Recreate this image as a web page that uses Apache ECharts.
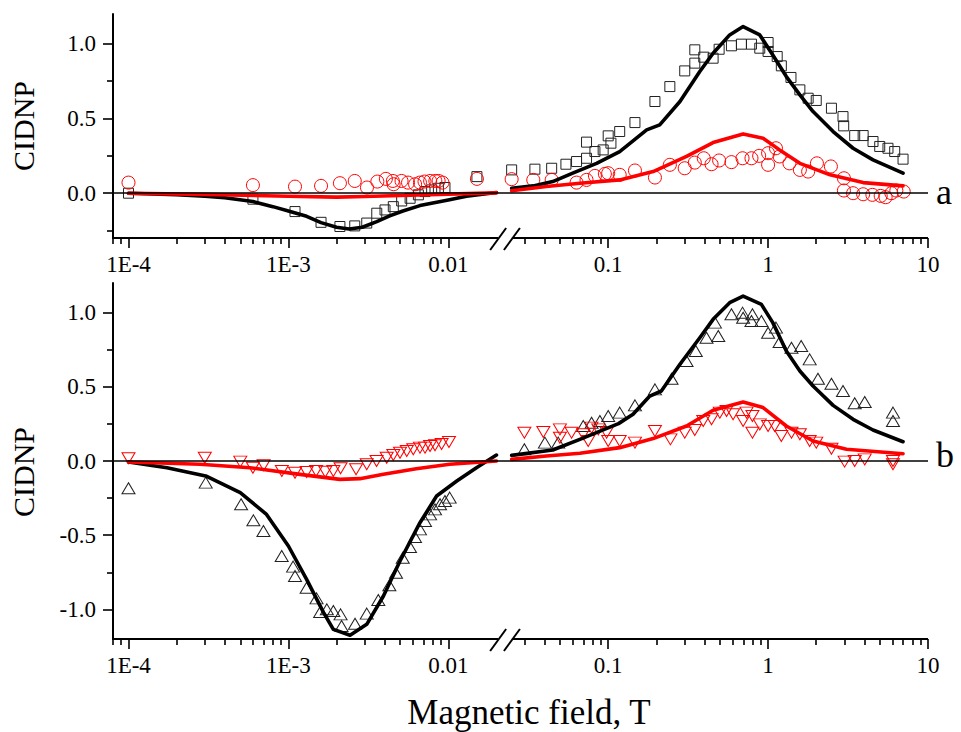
<!DOCTYPE html>
<html><head><meta charset="utf-8">
<script src="https://cdn.jsdelivr.net/npm/echarts@6/dist/echarts.min.js"></script>
<style>html,body{margin:0;padding:0;background:#fff}#c{width:961px;height:732px}</style>
</head><body><div id="c"></div>
<script>
// ---------- axes ----------
const xRange = [8e-5, 10];
const xBreak = [0.0205, 0.025];
const xMajor = [1e-4, 1e-3, 0.01, 0.1, 1, 10];
const xTickLabels = ['1E-4', '1E-3', '0.01', '0.1', '1', '10'];
const xMinor = [8e-5, 9e-5,
  2e-4, 3e-4, 4e-4, 5e-4, 6e-4, 7e-4, 8e-4, 9e-4,
  2e-3, 3e-3, 4e-3, 5e-3, 6e-3, 7e-3, 8e-3, 9e-3,
  0.03, 0.04, 0.05, 0.06, 0.07, 0.08, 0.09,
  0.2, 0.3, 0.4, 0.5, 0.6, 0.7, 0.8, 0.9,
  2, 3, 4, 5, 6, 7, 8, 9];
const yRangeA = [-0.3, 1.2];
const yMajorA = [0, 0.5, 1.0];
const yMinorA = [-0.25, 0.25, 0.75];
const yRangeB = [-1.2, 1.2];
const yMajorB = [-1.0, -0.5, 0, 0.5, 1.0];
const yMinorB = [-0.75, -0.25, 0.25, 0.75];

// ---------- panel a data ----------
const aSquares = [
  [1e-4, 0.0], [6.0e-4, -0.04], [1.1e-3, -0.123], [1.6e-3, -0.195], [2.1e-3, -0.223],
  [2.6e-3, -0.219], [3.09e-3, -0.2], [3.57e-3, -0.134], [4.02e-3, -0.112], [4.53e-3, -0.09],
  [5.11e-3, -0.052], [5.77e-3, -0.034], [6.5e-3, -0.011], [7.15e-3, 0.011], [7.87e-3, 0.022],
  [8.67e-3, 0.033], [9.53e-3, 0.038], [0.0151, 0.111],
  [0.0249, 0.156], [0.0348, 0.161], [0.0443, 0.167], [0.0544, 0.194], [0.0634, 0.212],
  [0.0732, 0.234], [0.0732, 0.342], [0.0826, 0.279], [0.093, 0.29], [0.1, 0.384],
  [0.104, 0.335], [0.118, 0.413], [0.147, 0.473], [0.196, 0.614], [0.243, 0.714],
  [0.301, 0.819], [0.348, 0.871], [0.348, 0.96], [0.396, 0.911], [0.453, 0.904],
  [0.494, 0.964], [0.59, 0.987], [0.681, 0.998], [0.787, 0.998], [0.887, 0.971],
  [1.0, 1.009], [1.0, 0.949], [1.14, 0.915], [1.21, 0.853], [1.39, 0.775],
  [1.58, 0.692], [1.78, 0.636], [2.0, 0.621], [2.49, 0.569], [2.94, 0.513],
  [2.97, 0.451], [3.48, 0.386], [3.93, 0.386], [4.53, 0.346], [4.99, 0.313],
  [5.62, 0.301], [6.19, 0.279], [6.98, 0.228]
];
const aCircles = [
  [1e-4, 0.071], [6e-4, 0.054], [1.1e-3, 0.044], [1.6e-3, 0.049], [2.1e-3, 0.067],
  [2.6e-3, 0.082], [3.1e-3, 0.038], [3.6e-3, 0.078], [4.07e-3, 0.096], [4.5e-3, 0.082],
  [4.55e-3, 0.06], [5.1e-3, 0.082], [5.6e-3, 0.071], [6.2e-3, 0.06], [6.65e-3, 0.071],
  [7.1e-3, 0.078], [7.7e-3, 0.082], [8.3e-3, 0.082], [8.7e-3, 0.082], [9.2e-3, 0.071],
  [0.0151, 0.096],
  [0.0249, 0.094], [0.034, 0.089], [0.0443, 0.089], [0.0634, 0.071], [0.0732, 0.089],
  [0.0826, 0.116], [0.0953, 0.129], [0.1, 0.134], [0.118, 0.123], [0.147, 0.152],
  [0.196, 0.105], [0.243, 0.19], [0.301, 0.167], [0.348, 0.205], [0.396, 0.234],
  [0.443, 0.194], [0.494, 0.219], [0.59, 0.208], [0.692, 0.234], [0.787, 0.234],
  [0.879, 0.25], [1.0, 0.268], [1.0, 0.19], [1.12, 0.301], [1.18, 0.246],
  [1.36, 0.2], [1.58, 0.156], [1.78, 0.145], [2.02, 0.2], [2.47, 0.179],
  [2.98, 0.1], [2.98, 0.018], [3.4, 0.0], [3.93, -0.007], [4.49, -0.011],
  [5.06, -0.018], [5.43, -0.027], [5.9, 0.0], [6.34, 0.018], [7.05, 0.011]
];
const aFitBlackLow = [
  [1e-4, 0], [2e-4, -0.01], [3e-4, -0.02], [4e-4, -0.03], [6e-4, -0.056], [8e-4, -0.09],
  [1e-3, -0.119], [1.3e-3, -0.155], [1.6e-3, -0.197], [2e-3, -0.228], [2.4e-3, -0.24],
  [2.9e-3, -0.228], [3.57e-3, -0.19], [4.3e-3, -0.152], [5.2e-3, -0.119], [6.65e-3, -0.083],
  [0.01, -0.045], [0.013, -0.02], [0.02, 0.005]
];
const aFitRedLow = [
  [1e-4, 0], [3e-4, -0.008], [1e-3, -0.02], [2e-3, -0.026], [3e-3, -0.022],
  [5e-3, -0.015], [0.01, -0.006], [0.02, 0.002]
];
const aFitBlackHigh = [
  [0.0249, 0.033], [0.034, 0.049], [0.045, 0.078], [0.06, 0.134], [0.0846, 0.2],
  [0.118, 0.279], [0.174, 0.424], [0.21, 0.458], [0.281, 0.614], [0.374, 0.815],
  [0.453, 0.9375], [0.575, 1.06], [0.698, 1.116], [0.887, 1.06], [1.07, 0.926],
  [1.3, 0.781], [1.58, 0.658], [1.91, 0.547], [2.55, 0.413], [3.4, 0.301],
  [4.53, 0.223], [6.98, 0.134]
];
const aFitRedHigh = [
  [0.0249, 0.016], [0.041, 0.045], [0.0665, 0.067], [0.118, 0.089], [0.191, 0.145],
  [0.309, 0.246], [0.453, 0.339], [0.698, 0.397], [0.93, 0.368], [1.18, 0.29],
  [1.58, 0.2], [2.44, 0.123], [3.93, 0.071], [6.98, 0.049]
];

// ---------- panel b data ----------
const bTriangles = [
  [1e-4, -0.184], [3.04e-4, -0.146], [5.06e-4, -0.292], [6.04e-4, -0.4], [6.98e-4, -0.472],
  [9.08e-4, -0.64], [1.07e-3, -0.712], [1.1e-3, -0.775], [1.3e-3, -0.854], [1.5e-3, -0.926],
  [1.58e-3, -1.018], [1.74e-3, -1.0], [1.91e-3, -1.011], [2.12e-3, -1.034], [2.15e-3, -1.112],
  [2.61e-3, -1.097], [3.09e-3, -1.029], [3.65e-3, -0.937], [4.28e-3, -0.838], [4.71e-3, -0.753],
  [5.19e-3, -0.652], [5.76e-3, -0.58], [6.19e-3, -0.512], [6.65e-3, -0.461], [7.15e-3, -0.404],
  [7.69e-3, -0.36], [8.26e-3, -0.326], [8.88e-3, -0.292], [9.53e-3, -0.27], [0.0102, -0.247],
  [0.0299, 0.079], [0.0402, 0.124], [0.0487, 0.124], [0.0698, 0.236], [0.0787, 0.258],
  [0.0887, 0.27], [0.1, 0.303], [0.118, 0.326], [0.147, 0.375], [0.196, 0.483],
  [0.249, 0.555], [0.309, 0.674], [0.353, 0.742], [0.412, 0.831], [0.465, 0.933],
  [0.488, 0.843], [0.59, 0.989], [0.692, 1.0], [0.698, 0.966], [0.798, 0.989],
  [0.787, 0.944], [0.908, 0.944], [1.0, 0.865], [1.12, 0.899], [1.18, 0.802],
  [1.4, 0.764], [1.61, 0.775], [1.82, 0.685], [2.05, 0.555], [2.49, 0.521],
  [2.94, 0.472], [3.48, 0.389], [4.02, 0.398], [6.04, 0.326], [6.04, 0.27]
];
const bInvTriangles = [
  [1e-4, 0.018], [3.0e-4, 0.022], [5.0e-4, -0.004], [6.0e-4, -0.045], [7.0e-4, -0.029],
  [9.1e-4, -0.067], [1.1e-3, -0.079], [1.3e-3, -0.074], [1.49e-3, -0.067], [1.7e-3, -0.072],
  [1.91e-3, -0.067], [2.12e-3, -0.049], [2.65e-3, -0.056], [3.09e-3, -0.022], [3.56e-3, 0.0],
  [4.12e-3, 0.022], [4.53e-3, 0.04], [4.99e-3, 0.056], [5.5e-3, 0.067], [6.04e-3, 0.079],
  [6.65e-3, 0.09], [7.15e-3, 0.09], [7.69e-3, 0.101], [8.26e-3, 0.106], [9.08e-3, 0.115],
  [0.0101, 0.128],
  [0.0299, 0.191], [0.0393, 0.196], [0.0499, 0.213], [0.0499, 0.157], [0.059, 0.191],
  [0.0698, 0.18], [0.075, 0.135], [0.0787, 0.225], [0.0867, 0.213], [0.0977, 0.191],
  [0.1, 0.135], [0.118, 0.135], [0.147, 0.124], [0.196, 0.202], [0.245, 0.146],
  [0.301, 0.191], [0.348, 0.209], [0.393, 0.27], [0.443, 0.281], [0.499, 0.326],
  [0.55, 0.337], [0.604, 0.315], [0.698, 0.27], [0.733, 0.326], [0.798, 0.303],
  [0.798, 0.191], [0.887, 0.247], [1.0, 0.236], [1.1, 0.236], [1.21, 0.169],
  [1.4, 0.191], [1.58, 0.18], [1.82, 0.135], [2.0, 0.124], [2.49, 0.083],
  [3.01, -0.004], [3.48, 0.0], [4.02, 0.011], [6.04, 0.0], [6.04, -0.022]
];
const bFitBlackLow = [
  [1e-4, -0.007], [1.74e-4, -0.045], [3.04e-4, -0.101], [5e-4, -0.213], [7.3e-4, -0.36],
  [1e-3, -0.573], [1.3e-3, -0.798], [1.66e-3, -1.022], [1.91e-3, -1.135], [2.43e-3, -1.175],
  [3.09e-3, -1.101], [3.93e-3, -0.91], [4.99e-3, -0.674], [6.65e-3, -0.416], [8.45e-3, -0.236],
  [0.0113, -0.135], [0.015, -0.045], [0.02, 0.04]
];
const bFitRedLow = [
  [1e-4, -0.007], [2.8e-4, -0.022], [5.75e-4, -0.045], [1.18e-3, -0.09], [2.1e-3, -0.124],
  [2.8e-3, -0.119], [3.93e-3, -0.09], [6.3e-3, -0.052], [0.0102, -0.022], [0.02, 0.0]
];
const bFitBlackHigh = [
  [0.0249, 0.038], [0.045, 0.074], [0.0665, 0.146], [0.116, 0.252], [0.143, 0.315],
  [0.182, 0.438], [0.215, 0.472], [0.281, 0.652], [0.374, 0.831], [0.453, 0.955],
  [0.575, 1.067], [0.698, 1.112], [0.908, 1.056], [1.07, 0.933], [1.3, 0.742],
  [1.58, 0.607], [1.91, 0.506], [2.55, 0.375], [3.4, 0.281], [4.53, 0.209], [6.98, 0.13]
];
const bFitRedHigh = [
  [0.0249, 0.011], [0.041, 0.034], [0.0665, 0.052], [0.118, 0.09], [0.191, 0.151],
  [0.309, 0.236], [0.453, 0.342], [0.698, 0.398], [0.93, 0.36], [1.3, 0.236],
  [1.91, 0.135], [3.09, 0.079], [6.98, 0.049]
];

// ---------- build ----------
const FONT = 'Liberation Serif';
const RED = '#ff0000';
const chart = echarts.init(document.getElementById('c'), null, {renderer: 'svg'});

function xLabelFmt(v) {
  const i = xMajor.findIndex(t => Math.abs(Math.log10(t) - Math.log10(v)) < 0.01);
  return i >= 0 ? xTickLabels[i] : '';
}
function yLabelFmt(v) {
  return Math.abs(v) < 1e-9 ? '0.0' : v.toFixed(1);
}
function xAxes(grid, withName) {
  const major = {
    type: 'log', logBase: 10, gridIndex: grid, min: xRange[0], max: xRange[1], position: 'bottom',
    axisLine: {show: false, onZero: false}, splitLine: {show: false},
    axisTick: {show: true, customValues: xMajor, length: 10, lineStyle: {color: '#000', width: 1.6}},
    axisLabel: {show: true, customValues: xMajor, formatter: xLabelFmt, margin: 15,
      fontSize: 23, fontFamily: FONT, color: '#000'}
  };
  if (withName) {
    Object.assign(major, {name: 'Magnetic field, T', nameLocation: 'middle', nameGap: 56,
      nameTextStyle: {fontSize: 35, fontFamily: FONT, color: '#000', padding: [0, 0, 0, 17]}});
  }
  const minor = {
    type: 'log', logBase: 10, gridIndex: grid, min: xRange[0], max: xRange[1], position: 'bottom',
    axisLine: {show: false, onZero: false}, splitLine: {show: false}, axisLabel: {show: false},
    axisTick: {show: true, customValues: xMinor, length: 6, lineStyle: {color: '#000', width: 1.6}}
  };
  return [major, minor];
}
function yAxes(grid, range, maj, min, namePad) {
  return [{
    type: 'value', gridIndex: grid, min: range[0], max: range[1], position: 'left',
    name: 'CIDNP', nameLocation: 'middle', nameGap: 75,
    nameTextStyle: {fontSize: 30, fontFamily: FONT, color: '#000', padding: namePad},
    axisLine: {show: true, onZero: false, lineStyle: {color: '#000', width: 2}},
    splitLine: {show: false},
    axisTick: {show: true, customValues: maj, length: 10, lineStyle: {color: '#000', width: 1.6}},
    axisLabel: {show: true, customValues: maj, formatter: yLabelFmt, margin: 17,
      fontSize: 23, fontFamily: FONT, color: '#000'}
  }, {
    type: 'value', gridIndex: grid, min: range[0], max: range[1], position: 'left', offset: 0,
    axisLine: {show: false, onZero: false}, splitLine: {show: false}, axisLabel: {show: false},
    axisTick: {show: true, customValues: min, length: 6, lineStyle: {color: '#000', width: 1.6}}
  }];
}
function brokenAxis(xi, yi, yMin) {
  return {
    type: 'custom', xAxisIndex: xi, yAxisIndex: yi, silent: true, clip: false, z: 5,
    data: [[xRange[0], yMin]],
    renderItem: function (params, api) {
      const p0 = api.coord([xRange[0], yMin]);
      const b1 = api.coord([xBreak[0], yMin]);
      const b2 = api.coord([xBreak[1], yMin]);
      const p1 = api.coord([xRange[1], yMin]);
      const st = {stroke: '#000', lineWidth: 2};
      const y = p0[1];
      return {type: 'group', children: [
        {type: 'line', shape: {x1: p0[0] - 1, y1: y, x2: b1[0], y2: y}, style: st},
        {type: 'line', shape: {x1: b2[0], y1: y, x2: p1[0], y2: y}, style: st},
        {type: 'line', shape: {x1: b1[0] - 8, y1: y + 12, x2: b1[0] + 8, y2: y - 10}, style: st},
        {type: 'line', shape: {x1: b2[0] - 8, y1: y + 12, x2: b2[0] + 8, y2: y - 10}, style: st}
      ]};
    }
  };
}
function scatter(xi, yi, data, symbol, size, color, rotate) {
  return {
    type: 'scatter', xAxisIndex: xi, yAxisIndex: yi, data: data, symbol: symbol,
    symbolSize: size, symbolRotate: rotate || 0, z: 2,
    itemStyle: {color: 'rgba(0,0,0,0)', borderColor: color, borderWidth: 1, opacity: 1}
  };
}
function line(xi, yi, data, color, z) {
  return {
    type: 'line', xAxisIndex: xi, yAxisIndex: yi, data: data, showSymbol: false,
    symbol: 'none', smooth: false, z: z,
    lineStyle: {color: color, width: 3.6, cap: 'round', join: 'round'}
  };
}
function zeroLine(xi, yi) {
  return {
    type: 'line', xAxisIndex: xi, yAxisIndex: yi, data: [], z: 1,
    markLine: {silent: true, symbol: ['none', 'none'], animation: false,
      label: {show: false}, lineStyle: {color: '#000', width: 1.5, type: 'solid'},
      data: [{yAxis: 0}]}
  };
}

const option = {
  animation: false,
  backgroundColor: '#fff',
  textStyle: {fontFamily: FONT},
  grid: [
    {left: 113, top: 14, width: 815, height: 224, outerBoundsMode: 'none', containLabel: false},
    {left: 113, top: 283, width: 815, height: 356, outerBoundsMode: 'none', containLabel: false}
  ],
  xAxis: [...xAxes(0, false), ...xAxes(1, true)],
  yAxis: [...yAxes(0, yRangeA, yMajorA, yMinorA, [0, 0, 0, 0]),
          ...yAxes(1, yRangeB, yMajorB, yMinorB, [0, 22, 0, 0])],
  graphic: [
    {type: 'text', left: 936, top: 174, style: {text: 'a', fontSize: 36, fontFamily: FONT, fill: '#000'}},
    {type: 'text', left: 936, top: 437, style: {text: 'b', fontSize: 36, fontFamily: FONT, fill: '#000'}}
  ],
  series: [
    zeroLine(0, 0),
    scatter(0, 0, aSquares, 'rect', [10, 10], '#222'),
    scatter(0, 0, aCircles, 'circle', 13, RED),
    line(0, 0, aFitBlackLow, '#000', 3),
    line(0, 0, aFitBlackHigh, '#000', 3),
    line(0, 0, aFitRedLow, RED, 4),
    line(0, 0, aFitRedHigh, RED, 4),
    brokenAxis(0, 0, yRangeA[0]),

    zeroLine(2, 2),
    scatter(2, 2, bTriangles, 'triangle', [13, 11], '#222'),
    scatter(2, 2, bInvTriangles, 'triangle', [13, 11], RED, 180),
    line(2, 2, bFitBlackLow, '#000', 3),
    line(2, 2, bFitBlackHigh, '#000', 3),
    line(2, 2, bFitRedLow, RED, 4),
    line(2, 2, bFitRedHigh, RED, 4),
    brokenAxis(2, 2, yRangeB[0])
  ]
};
chart.setOption(option);
</script>
</body></html>
